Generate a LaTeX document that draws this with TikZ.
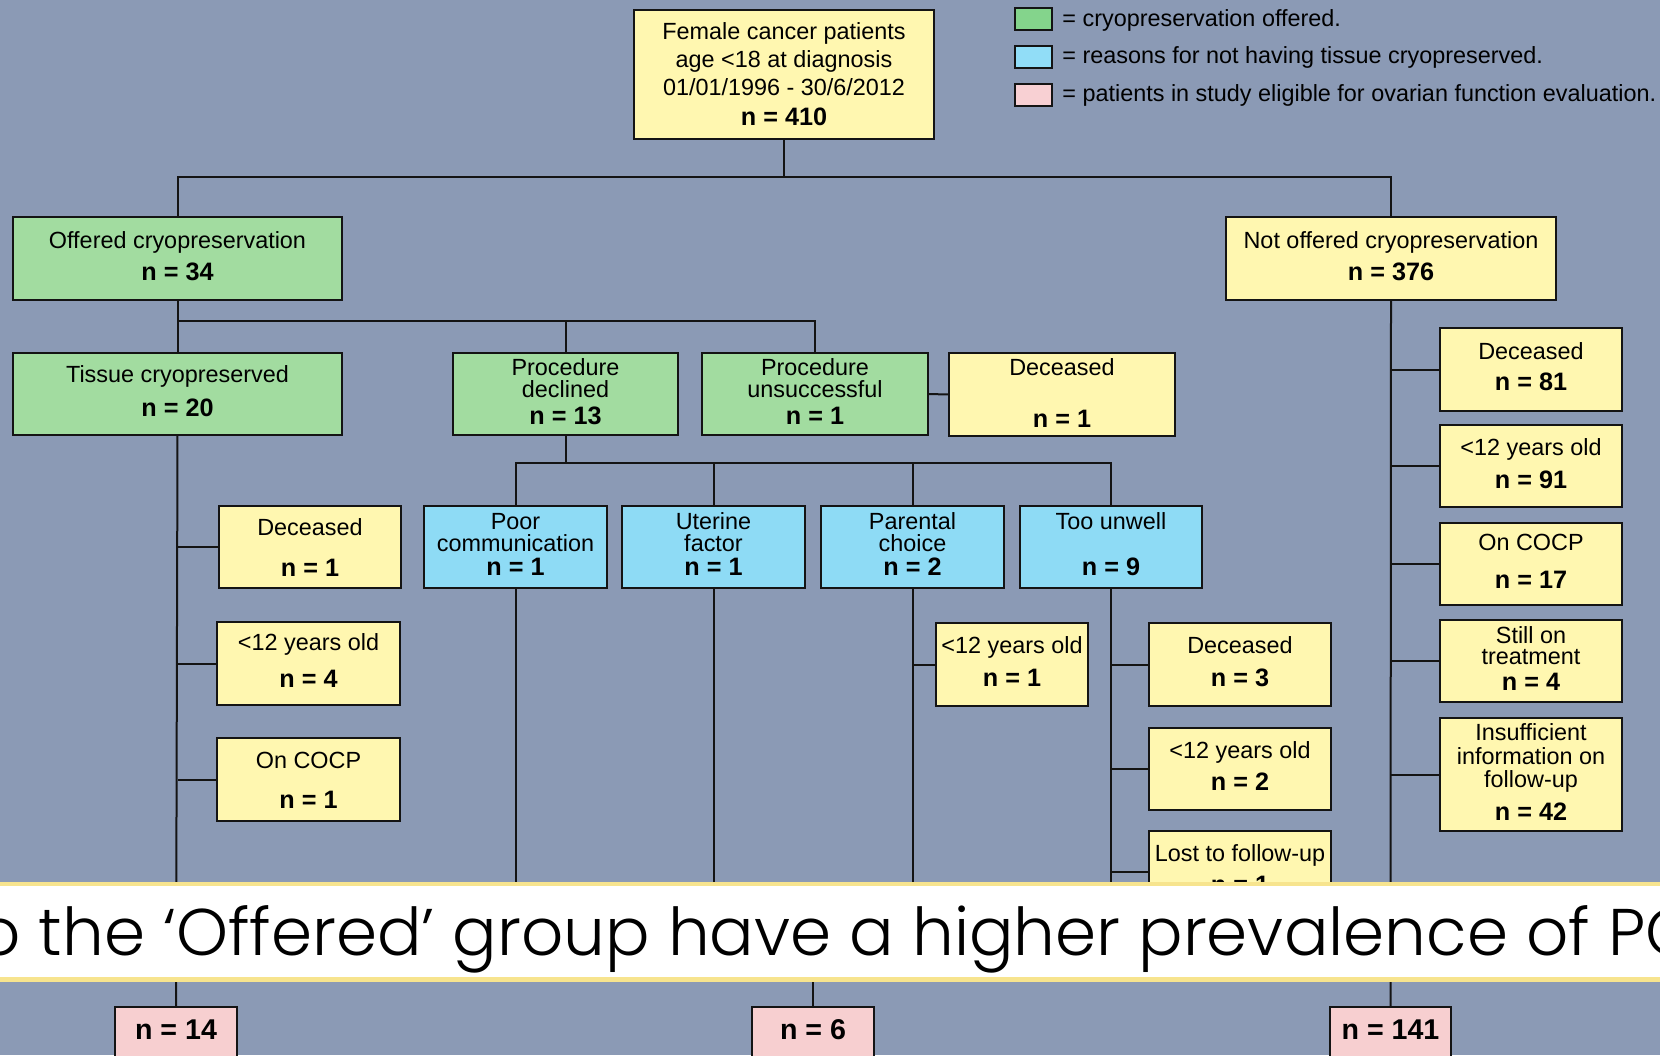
\documentclass[tikz,border=0pt]{standalone}
\usepackage{fontspec}
\setmainfont{Liberation Sans}
\IfFontExistsTF{Poppins Light}{\newfontfamily\bannerfont{Poppins Light}}{\newfontfamily\bannerfont{Poppins}}
\definecolor{bg}{RGB}{139,154,181}
\definecolor{byel}{RGB}{255,247,176}
\definecolor{bgrn}{RGB}{162,220,160}
\definecolor{bblu}{RGB}{142,219,245}
\definecolor{bpnk}{RGB}{247,207,208}
\definecolor{lgrn}{RGB}{132,212,140}
\definecolor{lblu}{RGB}{145,221,247}
\definecolor{lpnk}{RGB}{248,208,211}
\definecolor{bstripe}{RGB}{247,228,142}
\definecolor{edge}{RGB}{20,20,20}
\newcommand\bxfont{\fontsize{11.7}{14}\selectfont}
\newcommand\nval[1]{\strut{\fontsize{12.6}{14}\selectfont\bfseries n = #1}}
\newcommand\pval[1]{\strut{\fontsize{14.3}{14}\selectfont\bfseries n = #1}}
% first-line strut made taller: shifts the centred text down by #1 px
\newcommand\sd[1]{\rule{0pt}{\dimexpr 9.8pt+#1pt\relax}}
\newcommand\bx[7]{\node[#2, minimum width={(#5-#3)*0.5pt}, minimum height={(#6-#4)*0.5pt}] (#1) at ({(#3+#5)/2},{(#4+#6)/2}) {#7};}
\tikzset{
  box/.style={draw=edge, line width=1pt, inner sep=0pt, outer sep=0pt, align=center, font=\bxfont},
  ybox/.style={box, fill=byel},
  gbox/.style={box, fill=bgrn},
  bbox/.style={box, fill=bblu},
  pbox/.style={box, fill=bpnk},
  legsq/.style={draw=edge, line width=1pt, inner sep=0pt, minimum width=18.5pt, minimum height=11pt},
  legtxt/.style={anchor=base west, inner sep=0pt, font=\bxfont},
  conn/.style={draw=edge, line width=1pt}
}
\begin{document}
\begin{tikzpicture}[x=0.5pt,y=-0.5pt]
\useasboundingbox (0,0) rectangle (1660,1055);
\clip (0,0) rectangle (1660,1055);
\fill[bg] (0,0) rectangle (1660,1055);

% legend
\node[legsq, fill=lgrn] (lg1) at (1033.5,19) {};
\node[legsq, fill=lblu] (lg2) at (1033.5,57) {};
\node[legsq, fill=lpnk] (lg3) at (1033.5,95) {};
\node[legtxt] (lt1) at (1062,26) {= cryopreservation offered.};
\node[legtxt] (lt2) at (1062,63.5) {= reasons for not having tissue cryopreserved.};
\node[legtxt] (lt3) at (1062,101) {= patients in study eligible for ovarian function evaluation.};

% boxes
\bx{top}{ybox}{634}{10}{934}{139}{\sd{2.7}Female cancer patients\\\strut age <18 at diagnosis\\\strut 01/01/1996 - 30/6/2012\\[1pt]\nval{410}}
\bx{off}{gbox}{13}{217}{342}{300}{\strut Offered cryopreservation\\[2pt]\nval{34}}
\bx{notoff}{ybox}{1226}{217}{1556}{300}{\strut Not offered cryopreservation\\[2pt]\nval{376}}
\bx{tis}{gbox}{13}{353}{342}{435}{\strut Tissue cryopreserved\\[3pt]\nval{20}}
\bx{decl}{gbox}{453}{353}{678}{435}{\strut Procedure\\[-3pt]\strut declined\\[-0.5pt]\nval{13}}
\bx{unsu}{gbox}{702}{353}{928}{435}{\strut Procedure\\[-3pt]\strut unsuccessful\\[-0.5pt]\nval{1}}
\bx{dec1}{ybox}{949}{353}{1175}{436}{\sd{1.5}Deceased\\[12pt]\nval{1}}
\bx{ldec}{ybox}{219}{506}{401}{588}{\sd{3}Deceased\\[6.5pt]\nval{1}}
\bx{lyng}{ybox}{217}{622}{400}{705}{\strut <12 years old\\[4.75pt]\nval{4}}
\bx{lcocp}{ybox}{217}{738}{400}{821}{\sd{3.5}On COCP\\[6pt]\nval{1}}
\bx{poor}{bbox}{424}{506}{607}{588}{\strut Poor\\[-2.8pt]\strut communication\\[-2pt]\nval{1}}
\bx{uter}{bbox}{622}{506}{805}{588}{\strut Uterine\\[-2.8pt]\strut factor\\[-2pt]\nval{1}}
\bx{par}{bbox}{821}{506}{1004}{588}{\strut Parental\\[-2.8pt]\strut choice\\[-2pt]\nval{2}}
\bx{unw}{bbox}{1020}{506}{1202}{588}{\strut Too unwell\\[9pt]\nval{9}}
\bx{pyng}{ybox}{936}{623}{1088}{706}{\strut <12 years old\\[2.5pt]\nval{1}}
\bx{udec}{ybox}{1149}{623}{1331}{706}{\strut Deceased\\[2.5pt]\nval{3}}
\bx{uyng}{ybox}{1149}{728}{1331}{810}{\strut <12 years old\\[2pt]\nval{2}}
\bx{ulost}{ybox}{1149}{831}{1331}{913}{\strut Lost to follow-up\\[2.25pt]\nval{1}}
\bx{rdec}{ybox}{1440}{328}{1622}{411}{\strut Deceased\\[1.65pt]\nval{81}}
\bx{ryng}{ybox}{1440}{425}{1622}{507}{\strut <12 years old\\[2.5pt]\nval{91}}
\bx{rcocp}{ybox}{1440}{523}{1622}{605}{\strut On COCP\\[5pt]\nval{17}}
\bx{rstill}{ybox}{1440}{620}{1622}{702}{\strut Still on\\[-3.2pt]\strut treatment\\[-1.3pt]\nval{4}}
\bx{rins}{ybox}{1440}{718}{1622}{831}{\strut Insufficient\\[-1.75pt]\strut information on\\[-2.5pt]\strut follow-up\\[2.25pt]\nval{42}}
\bx{p14}{pbox}{115}{1007}{237}{1061}{\pval{14}}
\bx{p6}{pbox}{752}{1007}{874}{1061}{\pval{6}}
\bx{p141}{pbox}{1330}{1007}{1451}{1061}{\pval{141}}

% connectors
\coordinate (j0) at (784,177);
\coordinate (j1) at (177.5,321);
\coordinate (j2) at (565.5,463);
\coordinate (bantop) at (0,930);
\coordinate (c6) at (813,930);
\draw[conn] (top.south) -- (j0);
\draw[conn] (off.north) |- (j0) -| (notoff.north);
\draw[conn] (off.south) -- (tis.north);
\draw[conn] (j1) -| (unsu.north);
\draw[conn] (j1 -| decl.north) -- (decl.north);
\draw[conn] (unsu.east) -- (dec1.west);
\draw[conn] (decl.south) -- (j2);
\draw[conn] (poor.north) |- (j2) -| (unw.north);
\draw[conn] (uter.north) -- (uter.north |- j2);
\draw[conn] (par.north) -- (par.north |- j2);
\draw[conn] (tis.south) -- (p14.north);
\draw[conn] (ldec.west) -- (ldec.west -| tis.south);
\draw[conn] (lyng.west) -- (lyng.west -| tis.south);
\draw[conn] (lcocp.west) -- (lcocp.west -| tis.south);
\draw[conn] (poor.south) -- (poor.south |- bantop);
\draw[conn] (uter.south) -- (uter.south |- bantop);
\draw[conn] (par.south) -- (par.south |- bantop);
\draw[conn] (pyng.west) -- (pyng.west -| par.south);
\draw[conn] (unw.south) -- (unw.south |- bantop);
\draw[conn] (udec.west) -- (udec.west -| unw.south);
\draw[conn] (uyng.west) -- (uyng.west -| unw.south);
\draw[conn] (ulost.west) -- (ulost.west -| unw.south);
\draw[conn] (notoff.south) -- (p141.north);
\draw[conn] (rdec.west) -- (rdec.west -| notoff.south);
\draw[conn] (ryng.west) -- (ryng.west -| notoff.south);
\draw[conn] (rcocp.west) -- (rcocp.west -| notoff.south);
\draw[conn] (rstill.west) -- (rstill.west -| notoff.south);
\draw[conn] (rins.west) -- (rins.west -| notoff.south);
\draw[conn] (c6) -- (p6.north);

% banner
\fill[bstripe] (0,881.5) rectangle (1660,886);
\fill[white] (0,886) rectangle (1660,977);
\fill[bstripe] (0,977) rectangle (1660,982);
\node[anchor=base west, inner sep=0pt, font=\bannerfont\fontsize{33}{40}\selectfont] (ban) at (-22,955.7) {o the ‘Offered’ group have a higher prevalence of PO};
\end{tikzpicture}
\end{document}
